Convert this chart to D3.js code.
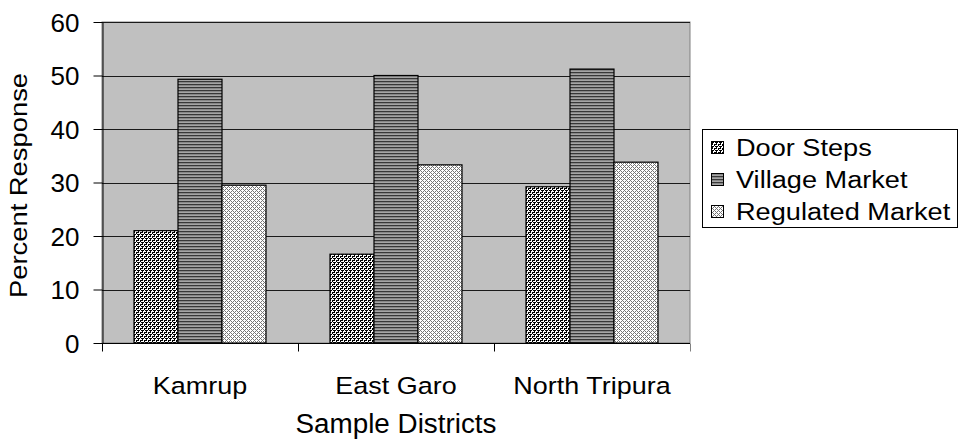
<!DOCTYPE html>
<html>
<head>
<meta charset="utf-8">
<script src="https://cdn.jsdelivr.net/npm/d3@7"></script>
<style>
  html, body { margin: 0; padding: 0; background: #fff; }
  svg { display: block; font-family: "Liberation Sans", Arial, sans-serif; }
</style>
</head>
<body>
<svg id="chart" width="961" height="443"></svg>
<script>
// Survey responses by district and place of sale
const districts = ["Kamrup", "East Garo", "North Tripura"];
const seriesNames = ["Door Steps", "Village Market", "Regulated Market"];
const doorSteps = [21.0, 16.6, 29.2];
const villageMarket = [49.3, 50.0, 51.2];
const regulatedMarket = [29.5, 33.3, 33.8];
const yTicks = [0, 10, 20, 30, 40, 50, 60];
const yTitle = "Percent Response";
const xTitle = "Sample Districts";

const seriesValues = [doorSteps, villageMarket, regulatedMarket];

const svg = d3.select("#chart");
const plot = { left: 102, right: 690, top: 22, bottom: 343 };
const FONT = "Liberation Sans, Arial, sans-serif";

// stretch text horizontally to a given factor of its natural width
function stretch(sel, factor) {
  sel.each(function () {
    const len = this.getComputedTextLength();
    d3.select(this).attr("textLength", len * factor).attr("lengthAdjust", "spacingAndGlyphs");
  });
}

// ---- fill patterns ----
const defs = svg.append("defs");

function pixelPattern(id, size, bg, fg, cells) {
  const p = defs.append("pattern")
    .attr("id", id).attr("patternUnits", "userSpaceOnUse")
    .attr("width", size).attr("height", size);
  p.append("rect").attr("width", size).attr("height", size).attr("fill", bg);
  cells.forEach(([cx, cy]) => {
    p.append("rect").attr("x", cx).attr("y", cy).attr("width", 1).attr("height", 1)
      .attr("fill", fg).attr("shape-rendering", "crispEdges");
  });
}

// confetti-like black/white texture
pixelPattern("pat-door", 4, "#ffffff", "#000000",
  [[0,0],[2,0],[3,0],[2,1],[0,2],[1,2],[3,2],[0,3]]);

// horizontal stripes
const stripes = defs.append("pattern")
  .attr("id", "pat-village").attr("patternUnits", "userSpaceOnUse")
  .attr("width", 4).attr("height", 3);
[["#383838", 0], ["#878787", 1], ["#a5a5a5", 2]].forEach(([c, y]) => {
  stripes.append("rect").attr("x", 0).attr("y", y).attr("width", 4).attr("height", 1)
    .attr("fill", c).attr("shape-rendering", "crispEdges");
});

// gray diagonal lattice on white
pixelPattern("pat-regulated", 4, "#ffffff", "#767676",
  [[0,0],[1,1],[1,3],[2,2],[3,1],[3,3]]);

const fills = ["url(#pat-door)", "url(#pat-village)", "url(#pat-regulated)"];

// ---- scales ----
const y = d3.scaleLinear().domain([0, 60]).range([plot.bottom, plot.top]);
const x0 = d3.scaleBand().domain(districts).range([plot.left, plot.right])
  .paddingInner(0.3265).paddingOuter(0.3265 / 2);
const x1 = d3.scaleBand().domain(seriesNames).range([0, x0.bandwidth()]);

// ---- plot area ----
svg.append("rect")
  .attr("x", plot.left).attr("y", plot.top)
  .attr("width", plot.right - plot.left).attr("height", plot.bottom - plot.top)
  .attr("fill", "#c0c0c0").attr("stroke", "#808080").attr("stroke-width", 1);

// gridlines
svg.append("g").selectAll("line")
  .data(yTicks.filter(d => d > 0))
  .join("line")
  .attr("x1", plot.left).attr("x2", plot.right)
  .attr("y1", d => Math.round(y(d)) + 0.5).attr("y2", d => Math.round(y(d)) + 0.5)
  .attr("stroke", "#1a1a1a").attr("stroke-width", 1);

// bars
const groups = svg.append("g").selectAll("g")
  .data(districts)
  .join("g")
  .attr("transform", d => `translate(${x0(d)},0)`);

groups.selectAll("rect")
  .data((d, i) => seriesNames.map((s, k) => ({ s, k, v: seriesValues[k][i] })))
  .join("rect")
  .attr("x", d => x1(d.s))
  .attr("y", d => y(d.v))
  .attr("width", x1.bandwidth())
  .attr("height", d => y(0) - y(d.v))
  .attr("fill", d => fills[d.k])
  .attr("stroke", "#000").attr("stroke-width", 1.2);

// ---- axes ----
const yAxis = svg.append("g")
  .attr("transform", `translate(${plot.left + 0.5},0)`)
  .call(d3.axisLeft(y).tickValues(yTicks).tickSize(9).tickPadding(14).tickSizeOuter(0));
yAxis.attr("font-family", FONT);
yAxis.select(".domain").attr("stroke", "#000");
yAxis.selectAll(".tick line").attr("stroke", "#000");
yAxis.selectAll(".tick text")
  .attr("font-size", 26).attr("fill", "#000")
  .attr("dy", "0.36em");

const xAxis = svg.append("g").attr("transform", `translate(0,${plot.bottom + 0.5})`);
xAxis.append("line")
  .attr("x1", plot.left).attr("x2", plot.right)
  .attr("stroke", "#000");
const boundaries = d3.range(districts.length + 1)
  .map(i => plot.left + i * x0.step());
xAxis.selectAll("line.tick")
  .data(boundaries)
  .join("line").attr("class", "tick")
  .attr("x1", d => Math.round(d) + 0.5).attr("x2", d => Math.round(d) + 0.5)
  .attr("y1", 0).attr("y2", 8)
  .attr("stroke", d => d === plot.right ? "#808080" : "#000");

svg.append("g").attr("font-family", FONT).selectAll("text")
  .data(districts)
  .join("text")
  .attr("x", d => x0(d) + x0.bandwidth() / 2)
  .attr("y", 394)
  .attr("text-anchor", "middle")
  .attr("font-size", 24.5)
  .text(d => d)
  .call(stretch, 1.1);

// axis titles
svg.append("text")
  .attr("font-family", FONT)
  .attr("x", (plot.left + plot.right) / 2).attr("y", 433)
  .attr("text-anchor", "middle").attr("font-size", 27)
  .text(xTitle)
  .call(stretch, 1.03);

svg.append("text")
  .attr("font-family", FONT)
  .attr("transform", `translate(27,${(73 + 298) / 2}) rotate(-90)`)
  .attr("text-anchor", "middle").attr("font-size", 24)
  .text(yTitle)
  .call(stretch, 1.14);

// ---- legend ----
const legend = svg.append("g").attr("font-family", FONT);
legend.append("rect")
  .attr("x", 702.5).attr("y", 129.5).attr("width", 255).attr("height", 98)
  .attr("fill", "#fff").attr("stroke", "#000");
const rows = legend.selectAll("g.row")
  .data(seriesNames)
  .join("g").attr("class", "row")
  .attr("transform", (d, i) => `translate(0,${156 + i * 32})`);
rows.append("rect")
  .attr("x", 711.5).attr("y", -14.5).attr("width", 12).attr("height", 12)
  .attr("fill", (d, i) => fills[i]).attr("stroke", "#000");
rows.append("text")
  .attr("x", 736).attr("y", 0)
  .attr("font-size", 23)
  .text(d => d)
  .call(stretch, 1.18);
</script>
</body>
</html>
